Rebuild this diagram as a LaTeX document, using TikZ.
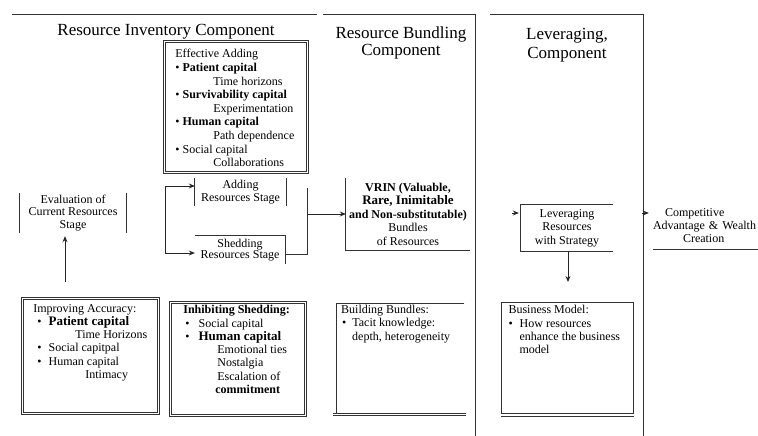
\documentclass[tikz,border=0pt]{standalone}
\usepackage{fontspec}
\setmainfont{Liberation Serif}
\usetikzlibrary{positioning,arrows.meta}

\tikzset{
    frame/.style={
        draw=black!80,
        line width=1pt
    },
    dblbox/.style={
        draw=black!80,
        double,
        double distance=1.3pt,
        line width=0.8pt
    },
    stage/.style={
        align=center,
        inner sep=0pt,
        font=\fontsize{12}{12.5}\selectfont
    },
    title/.style={
        align=center,
        inner sep=0pt,
        font=\fontsize{17}{17.5}\selectfont
    },
    list/.style={
        anchor=north west,
        font=\fontsize{12}{13.3}\selectfont
    },
    arr/.style={
        -{Stealth[length=6pt, width=5pt]},
        line width=0.9pt,
        draw=black!85
    }
}
\newcommand{\boxlist}[3]{\begin{minipage}[t][#2][t]{#1}#3\end{minipage}}
\newcommand{\itm}[2]{\hspace*{#1}\textbullet\hspace{#2}}

\begin{document}
\begin{tikzpicture}[x=1pt, y=-1pt]
    \useasboundingbox (0,0) rectangle (758,436);

    % component frames
    \draw[frame] (12,15) -- (317,15);
    \draw[frame] (323,15) -- (475,15) -- (475,436);
    \draw[frame] (490,15) -- (643,15) -- (643,436);

    \node[title] (tinv) at (166,32) {Resource Inventory Component};
    \node[title] (tbun) at (401,43) {Resource Bundling\\Component};
    \node[title, font=\fontsize{17}{18.5}\selectfont] (tlev) at (567,45) {Leveraging,\\Component};

    % stages
    \node[stage, minimum width=106pt, minimum height=40pt] (eval) at (73,213) {Evaluation of\\Current Resources\\Stage};
    \draw[frame] (eval.north west) -- (eval.south west);
    \draw[frame] (eval.north east) -- (eval.south east);

    \node[stage, minimum width=91pt, minimum height=28pt] (add) at (240.5,192) {Adding\\Resources Stage};
    \draw[frame] (add.north west) -- (add.south west);
    \draw[frame] (add.north east) -- (add.south east);

    \node[stage, minimum width=90pt, minimum height=28pt] (shed) at (240,250) {Shedding\\[-1.5pt]Resources Stage};
    \draw[frame] (shed.north west) -- (shed.north east) -- (shed.south east);

    \node[stage, minimum width=124pt, minimum height=72pt, font=\fontsize{12}{13.5}\selectfont] (vrin) at (408,214) {\textbf{VRIN (Valuable,}\\{\fontsize{13}{13.5}\selectfont\bfseries Rare, Inimitable}\\\textbf{and Non-substitutable)}\\Bundles\\of Resources};
    \draw[frame] (vrin.north west) -- (vrin.south west) -- (vrin.south east);

    \node[stage, minimum width=92pt, minimum height=46pt, font=\fontsize{12}{13.5}\selectfont] (lev) at (567,228) {Leveraging\\Resources\\with Strategy};
    \draw[frame] (lev.north east) -- (lev.north west) -- (lev.south west) -- (lev.south east);

    \node[stage, align=left, text width=105pt, minimum height=46pt, font=\fontsize{12}{13}\selectfont] (comp) at (705.5,226) {\hspace*{12pt}Competitive\\Advantage \& Wealth\\\hspace*{30pt}Creation};
    \draw[frame] (comp.south west) -- (comp.south east);

    % lists
    \node[dblbox, list, inner xsep=11pt, inner ysep=8pt, font=\fontsize{12}{13.6}\selectfont] (eff) at (164,41) {\boxlist{121pt}{115pt}{%
        Effective Adding\\
        \itm{0pt}{3pt}\textbf{Patient capital}\\
        \hspace*{38pt}Time horizons\\
        \itm{0pt}{3pt}\textbf{Survivability capital}\\
        \hspace*{38pt}Experimentation\\
        \itm{0pt}{3pt}\textbf{Human capital}\\
        \hspace*{38pt}Path dependence\\
        \itm{0pt}{3pt}Social capital\\
        \hspace*{38pt}Collaborations}};

    \node[dblbox, list, inner xsep=11pt, inner ysep=6pt, font=\fontsize{12}{13.2}\selectfont] (acc) at (22,298) {\boxlist{114pt}{103pt}{%
        Improving Accuracy:\\
        \itm{4pt}{7pt}{\fontsize{13}{13.2}\selectfont\bfseries Patient capital}\\
        \hspace*{42pt}Time Horizons\\
        \itm{4pt}{7pt}Social capitpal\\
        \itm{4pt}{7pt}Human capital\\
        \hspace*{52pt}Intimacy}};

    \node[dblbox, list, inner xsep=13pt, inner ysep=3pt] (inh) at (170,302) {\boxlist{109pt}{107pt}{%
        \textbf{Inhibiting Shedding:}\\
        \itm{2pt}{9pt}Social capital\\
        \itm{2pt}{9pt}{\fontsize{13}{13.3}\selectfont\bfseries Human capital}\\
        \hspace*{34pt}Emotional ties\\
        \hspace*{34pt}Nostalgia\\
        \hspace*{34pt}Escalation of\\
        \hspace*{32pt}\textbf{commitment}}};

    \node[list, inner xsep=5pt, inner ysep=2pt] (bb) at (336,303) {\boxlist{118pt}{106pt}{%
        Building Bundles:\\
        \itm{1pt}{6pt}Tacit knowledge:\\
        \hspace*{11pt}depth, heterogeneity}};
    \draw[frame] (bb.north east) -- (bb.north west) -- (bb.south west);
    \draw[frame] ([xshift=-3pt]bb.south west) -- ([xshift=2pt]bb.south east);
    \draw[frame] ([xshift=-3pt, yshift=-2.5pt]bb.south west) -- ([xshift=2pt, yshift=-2.5pt]bb.south east);

    \node[frame, list, inner xsep=7pt, inner ysep=3pt] (bm) at (501,302) {\boxlist{118pt}{105pt}{%
        Business Model:\\
        \itm{0pt}{7pt}How resources\\
        \hspace*{11pt}enhance the business\\
        \hspace*{11pt}model}};
    \draw[frame] ([yshift=-2.5pt]bm.south west) -- ([yshift=-2.5pt]bm.south east);

    % connectors
    \coordinate (evalfrom) at (65,282);
    \draw[arr, shorten >=3pt] (evalfrom) -- (evalfrom |- eval.south);

    \coordinate (splitT) at (165,186);
    \coordinate (splitB) at (165,253);
    \draw[arr] (splitT) -- (add.west |- splitT);
    \draw[arr] (splitT) -- (splitB) -- (shed.west |- splitB);

    \coordinate (mergeT) at (307,188);
    \coordinate (mergeB) at (307,254);
    \draw[frame] (mergeT) -- (mergeB) -- (shed.east |- mergeB);
    \draw[arr] (mergeT |- vrin.west) -- (vrin.west);

    \coordinate (levin) at (512,213);
    \draw[arr, shorten >=2pt] (levin) -- (levin -| lev.west);

    \coordinate (levdown) at (568,282);
    \draw[arr] (lev.south -| levdown) -- (levdown);

    \coordinate (compin) at (642,213);
    \draw[arr, shorten >=4pt] (compin) -- (compin -| comp.west);
\end{tikzpicture}
\end{document}
